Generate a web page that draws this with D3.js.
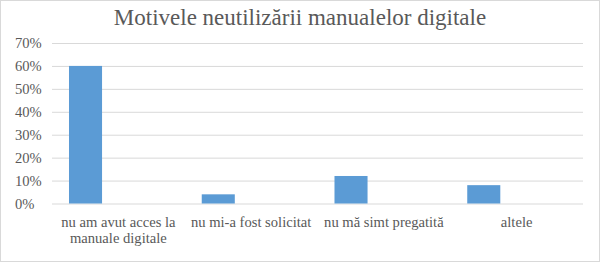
<!DOCTYPE html>
<html><head><meta charset="utf-8">
<script src="https://cdn.jsdelivr.net/npm/d3@7"></script>
</head><body style="margin:0;background:#fff">
<svg id="c" width="600" height="262" style="display:block" font-family="Times New Roman, Liberation Serif, serif"></svg>
<script>
const categories = [["nu am avut acces la","manuale digitale"],["nu mi-a fost solicitat"],["nu mă simt pregatită"],["altele"]];
const values = [0.60, 0.04, 0.12, 0.08];
const yTicks = [0,0.1,0.2,0.3,0.4,0.5,0.6,0.7];
const title = "Motivele neutilizării manualelor digitale";

const svg = d3.select("#c");
svg.append("rect").attr("x",0.5).attr("y",0.5).attr("width",599).attr("height",261)
  .attr("fill","#fff").attr("stroke","#d9d9d9");
const mLeft=52,mRight=583,mTop=43,mBottom=203.5;
const x = d3.scaleBand().domain(d3.range(categories.length)).range([mLeft,mRight]);
const y = d3.scaleLinear().domain([0,0.7]).range([mBottom,mTop]);

svg.append("text").attr("x",300).attr("y",25).attr("text-anchor","middle")
  .attr("font-size",23).attr("fill","#595959").text(title);

const gy = svg.append("g").attr("transform",`translate(${mLeft},0)`)
  .call(d3.axisLeft(y).tickValues(yTicks).tickFormat(d3.format(".0%")).tickSize(-(mRight-mLeft)));
gy.attr("font-family",null).attr("font-size",14.6);
gy.select(".domain").remove();
gy.selectAll(".tick line").attr("stroke","#d9d9d9").attr("stroke-width",1);
gy.selectAll(".tick text").attr("x",15-mLeft).attr("dy","0.32em").attr("text-anchor","start")
  .attr("fill","#595959");

const bw = x.bandwidth();
svg.selectAll("rect.bar").data(values).join("rect").attr("class","bar")
  .attr("x",(d,i)=>x(i)+bw*0.128).attr("width",bw*0.249)
  .attr("y",d=>y(d)).attr("height",d=>y(0)-y(d)).attr("fill","#5b9bd5");

const gx = svg.append("g").attr("font-size",14.6);
categories.forEach((lines,i)=>{
  const t = gx.append("text").attr("text-anchor","middle").attr("fill","#595959");
  lines.forEach((l,j)=>t.append("tspan").attr("x",x(i)+bw/2).attr("y",226.5+j*16).text(l));
});
</script>
</body></html>
